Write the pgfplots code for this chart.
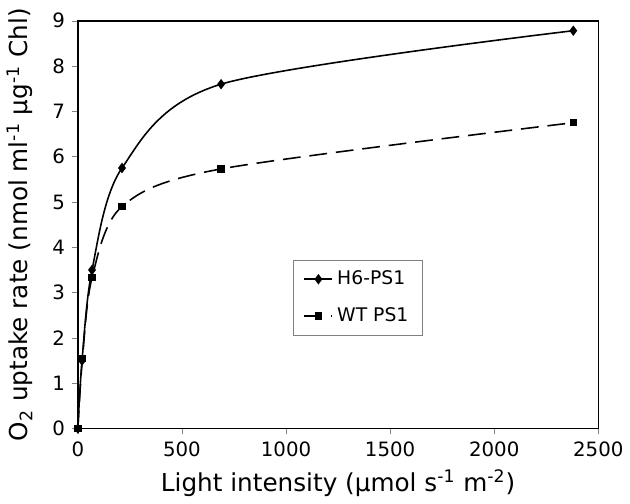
\documentclass[border=0pt]{standalone}
\usepackage{pgfplots}
\pgfplotsset{compat=1.18}
\usepackage{fontspec}
\setmainfont{DejaVu Sans}
\begin{document}
\begin{tikzpicture}
\begin{axis}[
    scale only axis,
    width=263.5pt, height=206.5pt,
    xmin=0, xmax=2500, ymin=0, ymax=9,
    xtick={0,500,...,2500}, ytick={0,1,...,9},
    tick pos=left,
    tick align=outside,
    major tick length=3pt,
    /pgf/number format/assume math mode=true,
    /pgf/number format/1000 sep={},
    ticklabel style={font=\fontsize{10}{12}\selectfont},
    xlabel={Light intensity (µmol s\textsuperscript{-1} m\textsuperscript{-2})},
    ylabel={O\textsubscript{2} uptake rate (nmol ml\textsuperscript{-1} µg\textsuperscript{-1} Chl)},
    label style={font=\fontsize{12.5}{14}\selectfont},
    xlabel style={yshift=0pt},
    ylabel style={yshift=3pt},
    axis line style={line width=0.8pt},
    legend style={at={(0.414,0.228)}, anchor=south west, draw=gray,
        font=\fontsize{9.5}{11.5}\selectfont, row sep=6pt,
        inner xsep=5pt, inner ysep=3.5pt},
    legend cell align=left,
    legend image code/.code={%
        \draw[mark repeat=2,mark phase=2] plot coordinates {(0cm,0cm) (0.25cm,0cm) (0.5cm,0cm)};},
]
\addplot[black, line width=0.8pt, smooth, tension=0.5, mark=diamond*, mark size=2pt]
coordinates {(0,0) (20,1.5) (68,3.5) (212,5.75) (688,7.6) (2380,8.78)};
\addlegendentry{H6-PS1}
\addplot[black, line width=0.8pt, dash pattern=on 9pt off 4.5pt, smooth, tension=0.5, mark=square*, mark size=1.5pt, mark options={solid}]
coordinates {(0,0) (22,1.55) (68,3.33) (212,4.9) (688,5.73) (2380,6.75)};
\addlegendentry{WT PS1}
\end{axis}
\path ([yshift=10.5pt]current axis.north west);
\end{tikzpicture}
\end{document}
